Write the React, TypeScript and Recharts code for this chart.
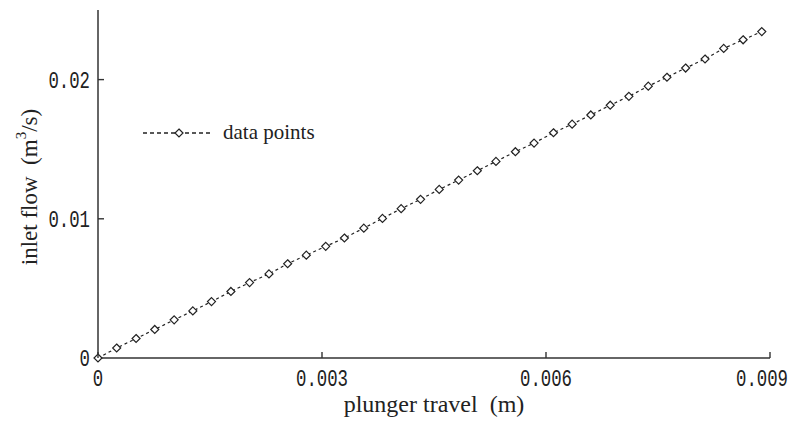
import { Line, LineChart, XAxis, YAxis } from "recharts"

// plunger travel (m)
const travel = [
  0, 0.00025, 0.00051, 0.00076, 0.00102, 0.00127, 0.00152, 0.00178, 0.00203, 0.00229, 0.00254, 0.00279,
  0.00305, 0.0033, 0.00356, 0.00381, 0.00406, 0.00432, 0.00457, 0.00483, 0.00508, 0.00533, 0.00559, 0.00584,
  0.0061, 0.00635, 0.0066, 0.00686, 0.00711, 0.00737, 0.00762, 0.00787, 0.00813, 0.00838, 0.00864, 0.00889,
]

// inlet flow (m3/s)
const flow = [
  0, 0.00072, 0.0014, 0.00205, 0.00274, 0.00338, 0.00405, 0.00478, 0.00542, 0.00604, 0.00677, 0.00739,
  0.00802, 0.00862, 0.00933, 0.01003, 0.01073, 0.0114, 0.01211, 0.01278, 0.01345, 0.01412, 0.01482, 0.01544,
  0.01618, 0.0168, 0.01746, 0.01816, 0.0188, 0.01953, 0.02017, 0.02083, 0.02148, 0.02224, 0.02286, 0.02345,
]

const xTicks = [0, 0.003, 0.006, 0.009]
const yTicks = [0, 0.01, 0.02]

const data = travel.map((t, i) => ({ travel: t, flow: flow[i] }))

const AXIS = "#333"
const TICK_FONT = "'Liberation Mono', 'DejaVu Sans Mono', monospace"
const SERIF = "'Liberation Serif', 'Times New Roman', serif"
const CHAR_W = 10.4

function Diamond({ cx, cy, r = 4 }: { cx: number; cy: number; r?: number }) {
  return (
    <polygon
      points={`${cx},${cy - r} ${cx + r},${cy} ${cx},${cy + r} ${cx - r},${cy}`}
      fill="#fff"
      stroke="#222"
      strokeWidth={1.2}
    />
  )
}

function XTick(props: any) {
  const { x, y, payload } = props
  const s = String(payload.value)
  const w = s.length * CHAR_W
  // the last label is pushed in so it stays inside the picture
  const last = x + w / 2 > 788
  return (
    <g>
      <line x1={x} y1={y} x2={x} y2={y - 6} stroke={AXIS} strokeWidth={1.4} />
      <text
        x={last ? 788 : x}
        y={y + 28}
        textAnchor={last ? "end" : "middle"}
        fontFamily={TICK_FONT}
        fontSize={23}
        fill="#222"
        textLength={w}
        lengthAdjust="spacingAndGlyphs"
      >
        {s}
      </text>
    </g>
  )
}

function YTick(props: any) {
  const { x, y, payload } = props
  const s = String(payload.value)
  return (
    <g>
      {payload.value !== 0 && <line x1={x} y1={y} x2={x + 6} y2={y} stroke={AXIS} strokeWidth={1.4} />}
      <text
        x={x - 8}
        y={y + 8}
        textAnchor="end"
        fontFamily={TICK_FONT}
        fontSize={23}
        fill="#222"
        textLength={s.length * CHAR_W}
        lengthAdjust="spacingAndGlyphs"
      >
        {s}
      </text>
    </g>
  )
}

function YLabel() {
  return (
    <text transform="translate(37,187) rotate(-90)" textAnchor="middle" fontFamily={SERIF} fontSize={23} fill="#222">
      {"inlet flow\u00a0\u00a0(m"}
      <tspan dy={-11} fontSize={15}>
        3
      </tspan>
      <tspan dy={11}>/s)</tspan>
    </text>
  )
}

function LegendBox() {
  return (
    <svg width={200} height={24} style={{ position: "absolute", left: 141, top: 121 }}>
      <line x1={2} y1={12} x2={70} y2={12} stroke="#222" strokeWidth={1.4} strokeDasharray="4 3" />
      <Diamond cx={38} cy={12} />
      <text x={82} y={18} fontFamily={SERIF} fontSize={21} fill="#222">
        data points
      </text>
    </svg>
  )
}

export default function App() {
  return (
    <div style={{ position: "absolute", left: 0, top: 0, width: 793, height: 423, background: "#fff" }}>
      <LineChart width={793} height={423} data={data} margin={{ top: 10, right: 23, bottom: 0, left: 0 }}>
        <XAxis
          dataKey="travel"
          type="number"
          domain={[0, 0.009]}
          ticks={xTicks}
          tick={<XTick />}
          tickSize={0}
          tickMargin={0}
          height={65}
          stroke={AXIS}
          strokeWidth={1.5}
          label={{
            value: "plunger travel\u00a0\u00a0(m)",
            position: "insideBottom",
            offset: 11,
            fontFamily: SERIF,
            fontSize: 24,
            fill: "#222",
          }}
        />
        <YAxis
          type="number"
          domain={[0, 0.025]}
          ticks={yTicks}
          tick={<YTick />}
          tickSize={0}
          tickMargin={0}
          width={98}
          stroke={AXIS}
          strokeWidth={1.5}
          label={{ content: <YLabel /> }}
        />
        <Line
          dataKey="flow"
          name="data points"
          stroke="#222"
          strokeWidth={1.2}
          strokeDasharray="3 3"
          isAnimationActive={false}
          dot={(p: any) => <Diamond key={p.index} cx={p.cx} cy={p.cy} />}
        />
      </LineChart>
      <LegendBox />
    </div>
  )
}
